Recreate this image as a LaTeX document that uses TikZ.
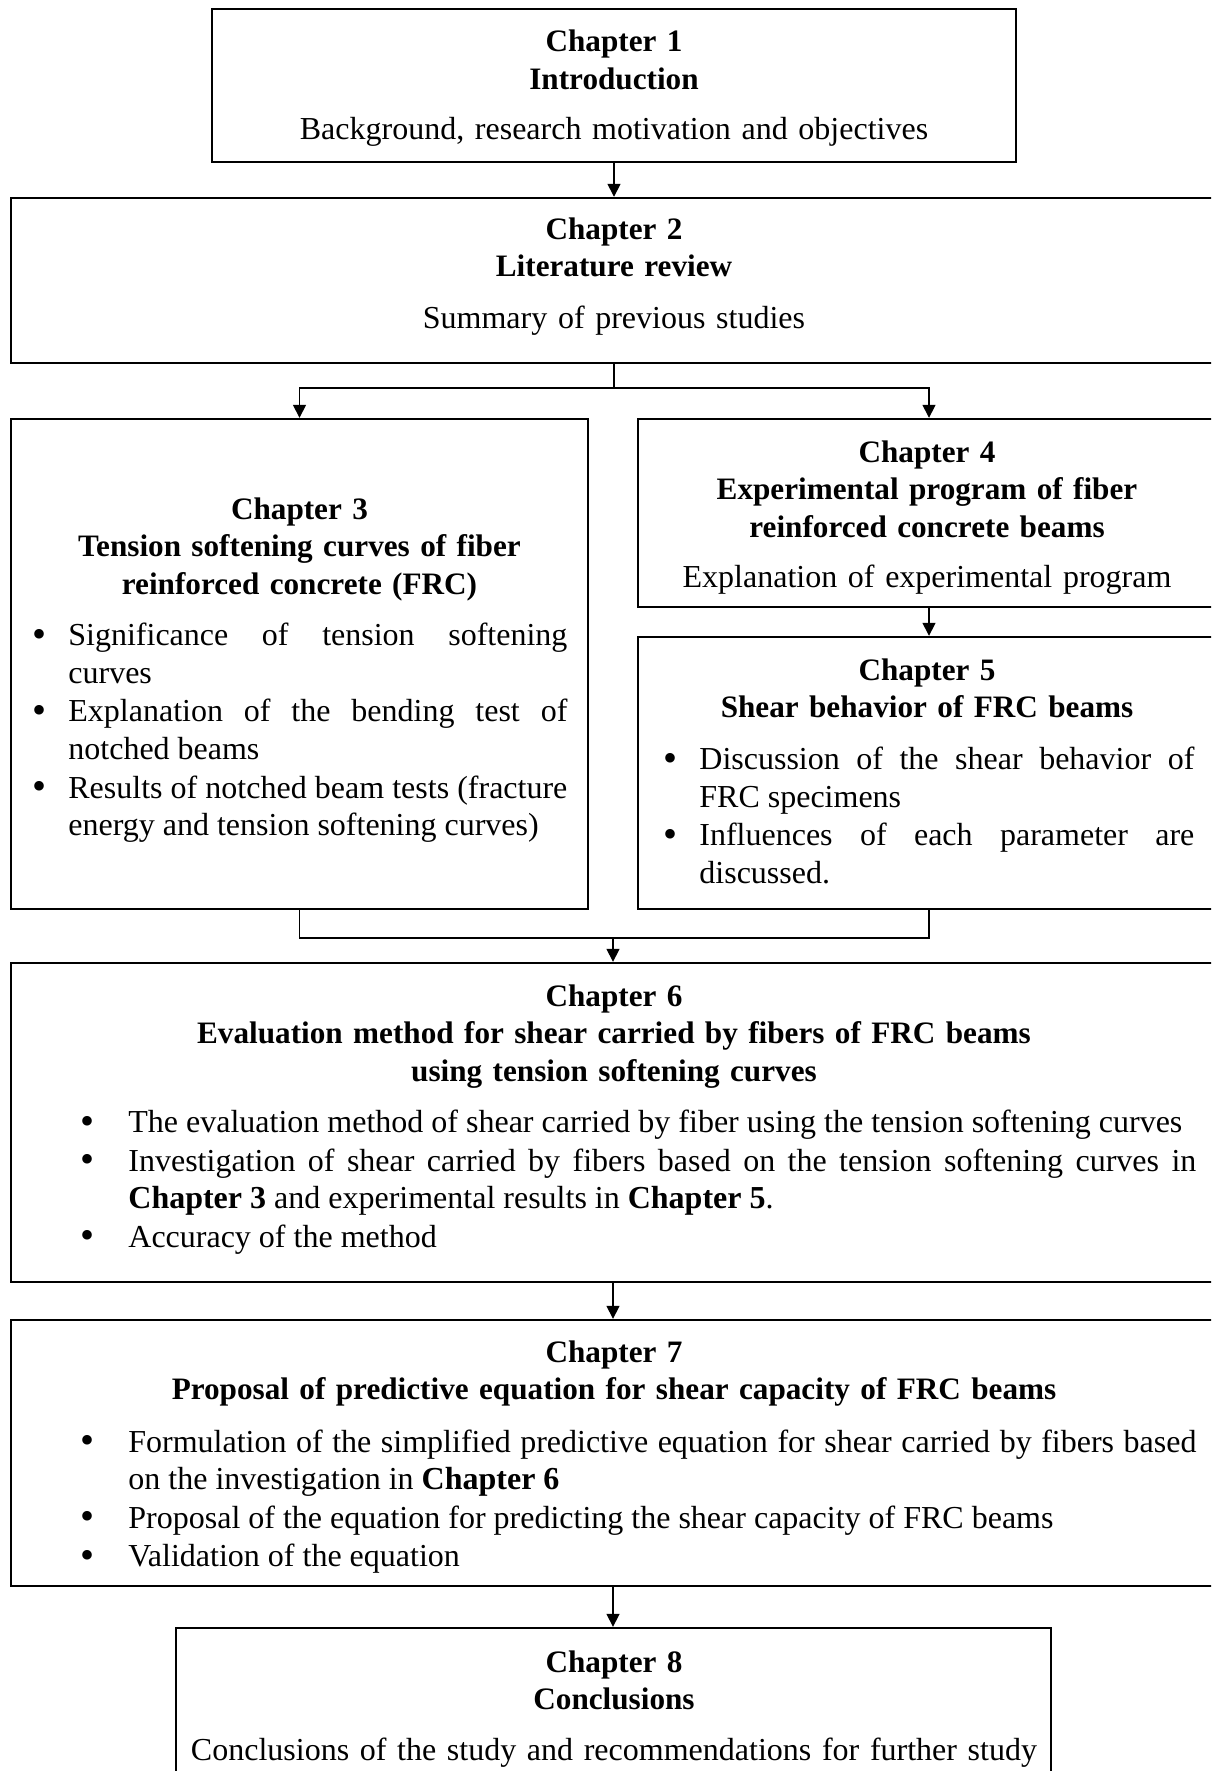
\documentclass[tikz,border=0pt]{standalone}
\usepackage{fontspec}
\setmainfont{Liberation Serif}
\usetikzlibrary{arrows.meta}
\newcommand\blsetup{\hyphenpenalty=10000 \exhyphenpenalty=10000 \tolerance=9999 \parskip=0.5pt\relax}
\newcommand\bigbullet{\raisebox{-0.8pt}{\fontsize{20}{20}\selectfont\textbullet}}
\newcommand\bitemA{\par\noindent\llap{\bigbullet\hskip 10.8pt}\strut\ignorespaces}
\newcommand\bitemB{\par\noindent\llap{\bigbullet\hskip 17.0pt}\strut\ignorespaces}
\tikzset{
  chbox/.style={draw, line width=1.2pt, inner sep=0pt, minimum width=#1},
  arr/.style={line width=0.8pt, -{Triangle[length=6.5pt,width=6.5pt]}},
  conn/.style={line width=0.8pt},
  ttl/.style={anchor=north, inner sep=0pt, text width=560pt, align=center,
    font=\fontsize{15.6}{18.8}\selectfont\bfseries},
  txt/.style={anchor=north, inner sep=0pt, text width=560pt, align=center,
    font=\fontsize{16}{18.8}\selectfont},
  blist/.style={anchor=north west, inner sep=0pt, text width=#1, align=justify,
    font=\fontsize{16}{18.8}\selectfont}
}
\begin{document}
\begin{tikzpicture}[x=0.5pt,y=-0.5pt]
\useasboundingbox (0,0) rectangle (1211,1771);
\clip (0,0) rectangle (1211,1771);
\fill[white] (0,0) rectangle (1211,1771);

% boxes
\node[chbox=402pt, minimum height=76.5pt] (b1) at (614,85.5) {};
\node[chbox=604.5pt, minimum height=82.5pt] (b2) at (615.5,280.5) {};
\node[chbox=288.5pt, minimum height=245pt] (b3) at (299.5,664) {};
\node[chbox=291pt, minimum height=94pt] (b4) at (929,513) {};
\node[chbox=291pt, minimum height=136pt] (b5) at (929,773) {};
\node[chbox=604.5pt, minimum height=159.5pt] (b6) at (615.5,1122.5) {};
\node[chbox=604.5pt, minimum height=133pt] (b7) at (615.5,1453) {};
\node[chbox=437.5pt, minimum height=81pt] (b8) at (613.5,1709) {};

% texts
\node[ttl] (t1) at (614,25.1) {\strut Chapter 1\\Introduction};
\node[txt] (s1) at (614,113.1) {\strut Background, research motivation and objectives};

\node[ttl] (t2) at (614,212.6) {\strut Chapter 2\\Literature review};
\node[txt] (s2) at (614,301.6) {\strut Summary of previous studies};

\node[ttl] (t3) at (299.5,492.6) {\strut Chapter 3\\Tension softening curves of fiber\\reinforced concrete (FRC)};
\node[blist=249.5pt] (l3) at (68,606.6) {\blsetup
\bitemA Significance of tension softening\linebreak curves
\bitemA Explanation of the bending test of\linebreak notched beams
\bitemA Results of notched beam tests (fracture\linebreak energy and tension softening curves)};

\node[ttl] (t4) at (927,435.6) {\strut Chapter 4\\Experimental program of fiber\\reinforced concrete beams};
\node[txt] (s4) at (927,560.6) {\strut Explanation of experimental program};

\node[ttl] (t5) at (927,653.6) {\strut Chapter 5\\Shear behavior of FRC beams};
\node[blist=247.5pt] (l5) at (699,730.6) {\blsetup
\bitemA Discussion of the shear behavior of\linebreak FRC specimens
\bitemA Influences of each parameter are\linebreak discussed.};

\node[ttl] (t6) at (614,979.6) {\strut Chapter 6\\Evaluation method for shear carried by fibers of FRC beams\\using tension softening curves};
\node[blist=534pt] (l6) at (128,1093.5) {\blsetup
\bitemB The evaluation method of shear carried by fiber using the tension softening curves
\bitemB Investigation of shear carried by fibers based on the tension softening curves in\linebreak \textbf{Chapter 3} and experimental results in \textbf{Chapter 5}.
\bitemB Accuracy of the method};

\node[ttl] (t7) at (614,1335.6) {\strut Chapter 7\\Proposal of predictive equation for shear capacity of FRC beams};
\node[blist=534pt] (l7) at (128,1413.1) {\blsetup
\bitemB Formulation of the simplified predictive equation for shear carried by fibers based\linebreak on the investigation in \textbf{Chapter 6}
\bitemB Proposal of the equation for predicting the shear capacity of FRC beams
\bitemB Validation of the equation};

\node[ttl] (t8) at (614,1645.6) {\strut Chapter 8\\Conclusions};
\node[txt] (s8) at (614,1733.6) {\strut Conclusions of the study and recommendations for further study};

% connectors
\coordinate (split) at (614,388);
\coordinate (merge) at (613,938);
\draw[arr] (b1.south) -- (b1.south |- b2.north);
\draw[conn] (b2.south -| split) -- (split);
\draw[arr] (split) -| (b3.north);
\draw[arr] (split) -| (b4.north);
\draw[arr] (b4.south) -- (b5.north);
\draw[conn] (b3.south) |- (merge) -| (b5.south);
\draw[arr] (merge) -- (merge |- b6.north);
\draw[arr] (b6.south -| merge) -- (merge |- b7.north);
\draw[arr] (b7.south -| merge) -- (merge |- b8.north);
\end{tikzpicture}
\end{document}
